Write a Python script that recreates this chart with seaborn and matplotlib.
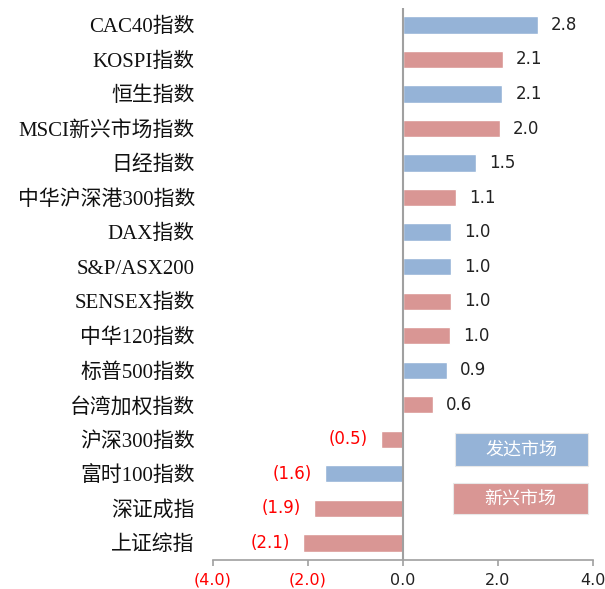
import matplotlib
matplotlib.use('Agg')
import matplotlib.pyplot as plt
import seaborn as sns
import pandas as pd
from matplotlib.patches import Rectangle

sns.set_theme(style='white')
plt.rcParams['font.family'] = ['DejaVu Sans', 'Noto Sans CJK SC']

names = ['CAC40指数', 'KOSPI指数', '恒生指数', 'MSCI新兴市场指数', '日经指数',
         '中华沪深港300指数', 'DAX指数', 'S&P/ASX200', 'SENSEX指数', '中华120指数',
         '标普500指数', '台湾加权指数', '沪深300指数', '富时100指数', '深证成指', '上证综指']
values = [2.84, 2.10, 2.09, 2.04, 1.54, 1.11, 1.02, 1.02, 1.02, 0.99,
          0.92, 0.63, -0.47, -1.64, -1.88, -2.11]
markets = ['发达市场', '新兴市场', '发达市场', '新兴市场', '发达市场',
           '新兴市场', '发达市场', '发达市场', '新兴市场', '新兴市场',
           '发达市场', '新兴市场', '新兴市场', '发达市场', '新兴市场', '新兴市场']
legend_labels = ['发达市场', '新兴市场']
xticks = [-4, -2, 0, 2, 4]


def fmt(v):
    return f'{v:.1f}' if v >= 0 else f'({abs(v):.1f})'


df = pd.DataFrame({'name': names, 'value': values, 'market': markets})
colors = {'发达市场': '#95B3D7', '新兴市场': '#D99694'}

fig = plt.figure(figsize=(6.05, 5.89), dpi=100)
ax = fig.add_axes([0.352, 0.049, 0.628, 0.938])
sns.barplot(data=df, x='value', y='name', hue='market', palette=colors,
            dodge=False, width=0.5, saturation=1, legend=False, orient='h', ax=ax)
ax.set_xlim(-4, 4)
ax.set_ylim(15.5, -0.5)
ax.set_xlabel('')
ax.set_ylabel('')

# zero line
ax.axvline(0, color='#A0A0A0', lw=1.5, zorder=3)

# value labels
for i, v in enumerate(values):
    if v >= 0:
        ax.annotate(fmt(v), (v, i), xytext=(9.5, 0), textcoords='offset points',
                    ha='left', va='center', fontsize=12, color='#222222',
                    family='DejaVu Sans')
    else:
        ax.annotate(fmt(v), (v, i), xytext=(-9.5, 0), textcoords='offset points',
                    ha='right', va='center', fontsize=12, color='#FF0000',
                    family='DejaVu Sans')

# axes styling
for s in ['top', 'right', 'left']:
    ax.spines[s].set_visible(False)
ax.spines['bottom'].set_color('#A0A0A0')
ax.spines['bottom'].set_linewidth(1.2)

ax.set_xticks(xticks)
ax.set_xticklabels([fmt(t) for t in xticks], fontsize=11.5, family='DejaVu Sans')
for t, lab in zip(xticks, ax.get_xticklabels()):
    lab.set_color('#FF0000' if t < 0 else '#222222')
ax.tick_params(axis='x', length=4, width=1.2, color='#A0A0A0', pad=5, bottom=True)

ax.set_yticks(range(len(names)))
ax.set_yticklabels(names, fontsize=15, family=['Liberation Serif', 'Noto Sans CJK SC'],
                   color='#111111')
ax.tick_params(axis='y', length=0, pad=13)

# legend boxes
boxes = [(1.09, 11.82, 2.81, 0.96), (1.05, 13.28, 2.85, 0.89)]
for (x0, y0, w, h), lab in zip(boxes, legend_labels):
    ax.add_patch(Rectangle((x0, y0), w, h, facecolor=colors[lab],
                           edgecolor='#E8E8E8', lw=0.8, zorder=4))
    ax.text(x0 + w / 2, y0 + h / 2, lab, ha='center', va='center', color='white',
            fontsize=13, family='Noto Sans CJK SC', zorder=5)

fig.savefig('out.png', dpi=100)
